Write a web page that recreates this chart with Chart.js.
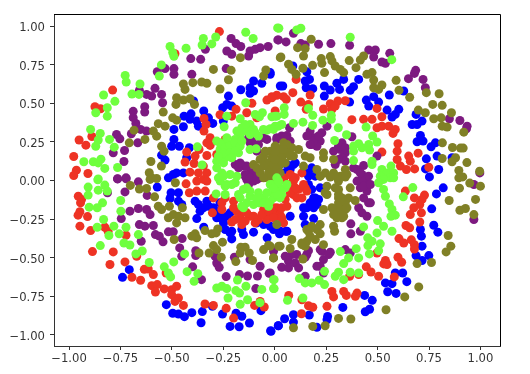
<!DOCTYPE html>
<html>
<head>
<meta charset="utf-8">
<script src="https://cdn.jsdelivr.net/npm/chart.js@4"></script>
<style>
html, body { margin: 0; padding: 0; background: #fff; }
canvas { display: block; }
</style>
</head>
<body>
<canvas id="chart1" width="530" height="374"></canvas>
<script>
// values, [x, y]
var bluePoints = [[-0.022,0.688],[-0.103,0.645],[-0.063,0.63],[-0.12,0.601],[-0.165,0.588],[-0.103,0.58],[-0.12,0.565],[0.027,0.612],[-0.225,0.547],[-0.233,0.493],[-0.253,0.471],[-0.209,0.482],[-0.395,0.515],[-0.345,0.45],[-0.441,0.417],[-0.407,0.432],[-0.412,0.396],[-0.379,0.385],[-0.371,0.352],[-0.301,0.37],[-0.322,0.406],[-0.49,0.331],[-0.444,0.348],[-0.49,0.266],[-0.501,0.222],[-0.464,0.222],[-0.55,0.164],[-0.533,0.132],[-0.415,0.212],[-0.428,0.147],[-0.493,0.039],[-0.517,0.017],[-0.444,0.049],[-0.477,0.049],[-0.25,0.385],
[0.088,0.742],[0.156,0.705],[0.169,0.655],[0.148,0.645],[0.153,0.601],[0.185,0.595],[0.039,0.612],[0.241,0.612],[0.27,0.586],[0.241,0.547],[0.302,0.63],[0.335,0.655],[0.315,0.59],[0.408,0.655],[0.383,0.608],[0.367,0.584],[0.364,0.508],[0.445,0.521],[0.481,0.543],[0.457,0.482],[0.505,0.508],[0.557,0.554],[0.627,0.58],[0.546,0.456],[0.603,0.461],[0.586,0.428],[0.57,0.411],[0.687,0.428],[0.716,0.385],[0.668,0.363],[0.692,0.363],[0.708,0.292],[0.692,0.251],[0.721,0.255],[0.76,0.218],[0.781,0.244],[0.789,0.158],[0.737,0.14],[0.862,0.147],[0.797,0.071],[0.733,0.075],[0.752,0.023],[0.091,0.103],[0.067,0.071],[0.043,0.049],[0.164,0.049],[0.18,0.082],[-0.022,0.699],
[-0.571,-0.043],[-0.504,-0.08],[-0.468,-0.08],[-0.509,-0.117],[-0.468,-0.134],[-0.452,-0.156],[-0.387,-0.134],[-0.347,-0.177],[-0.363,-0.199],[-0.379,-0.247],[-0.298,-0.177],[-0.266,-0.242],[-0.249,-0.275],[-0.217,-0.21],[-0.345,-0.303],[-0.241,-0.318],[-0.217,-0.34],[-0.209,-0.379],[-0.152,-0.351],[-0.103,-0.335],[-0.037,-0.372],[-0.707,-0.578],[-0.74,-0.628],[-0.527,-0.805],[-0.496,-0.861],[-0.468,-0.866],[-0.439,-0.883],[-0.403,-0.857],[-0.352,-0.85],[-0.358,-0.922],[-0.303,-0.816],[-0.254,-0.866],[-0.188,-0.861],[-0.16,-0.88],[-0.123,-0.924],[-0.217,-0.946],[-0.173,-0.948],[-0.067,-0.844],[-0.02,-0.974],[0.017,-0.942],[-0.054,-0.286],[0.027,-0.329],
[0.819,-0.048],[0.786,-0.087],[0.763,-0.184],[0.773,-0.29],[0.793,-0.335],[0.708,-0.318],[0.713,-0.361],[0.716,-0.426],[0.687,-0.487],[0.716,-0.519],[0.749,-0.487],[0.586,-0.6],[0.622,-0.6],[0.642,-0.656],[0.538,-0.664],[0.57,-0.669],[0.549,-0.721],[0.59,-0.732],[0.437,-0.745],[0.474,-0.777],[0.461,-0.835],[0.44,-0.851],[0.331,-0.823],[0.257,-0.881],[0.254,-0.903],[0.168,-0.872],[0.205,-0.952],[0.091,-0.87],[0.091,-0.918],[0.048,-0.896],[0.018,-0.941],[-0.018,-0.978],[0.075,-0.232],[0.14,-0.232],[0.189,-0.247],[0.148,-0.286],[0.054,-0.329],[0.023,-0.346],[0.164,-0.026],[0.189,-0.113],[0.205,-0.156],[0.156,-0.177],[0.197,0.028],
[0.14,-0.177],[0.189,-0.177],[0.197,-0.113],[0.172,-0.145],[0.18,-0.058],[0.221,-0.048],[0.213,-0.123],[0.164,0.028],[-0.006,-0.318],[0.059,-0.329],[-0.371,-0.156],[-0.322,-0.167],[-0.266,-0.199],[-0.233,-0.232],[-0.282,-0.242],[-0.087,-0.275],[-0.022,-0.297],[-0.16,-0.318],[-0.209,-0.329],[-0.266,-0.145],[-0.33,-0.134],[0.059,0.103],[0.1,0.114],[0.075,0.071]];

var redPoints = [[-0.269,0.965],[-0.788,0.586],[-0.874,0.478],[-0.847,0.465],[-0.485,0.822],[-0.889,0.285],[-0.951,0.262],[-0.918,0.229],[-0.977,0.155],[-0.964,0.067],[-0.977,0.032],[-0.908,0.045],[-0.344,0.402],[-0.334,0.363],[-0.344,0.32],[-0.314,0.277],[-0.33,0.244],[-0.314,0.227],[-0.368,0.201],[-0.387,0.158],[-0.33,0.162],[-0.428,0.184],[-0.436,0.119],[-0.392,0.11],[-0.347,0.093],[-0.412,0.054],[-0.371,0.049],[-0.33,0.049],[-0.282,0.168],[-0.266,0.426],[-0.188,0.461],[-0.209,0.417],[-0.136,0.439],[-0.111,0.5],[-0.038,0.521],[-0.014,0.543],[-0.087,0.406],[-0.241,0.266],
[0.104,0.655],[0.088,0.569],[0.043,0.543],[0.01,0.552],[0.056,0.526],[-0.014,0.536],[0.002,0.45],[0.172,0.554],[0.127,0.508],[0.164,0.493],[0.153,0.461],[0.237,0.463],[0.27,0.497],[0.307,0.515],[0.343,0.517],[0.278,0.461],[0.294,0.482],[0.375,0.394],[0.432,0.396],[0.473,0.396],[0.497,0.467],[0.521,0.413],[0.497,0.342],[0.521,0.352],[0.554,0.352],[0.586,0.331],[0.575,0.305],[0.599,0.238],[0.595,0.19],[0.521,0.184],[0.595,0.136],[0.651,0.158],[0.697,0.177],[0.611,0.093],[0.64,0.071],[0.68,0.075],[0.659,0.125],[0.749,0.086],[0.075,0.039],[0.043,0.017],[0.1,0.017],[0.132,0.049],
[-0.955,-0.102],[-0.939,-0.123],[-0.944,-0.145],[-0.947,-0.203],[-0.956,-0.225],[-0.91,-0.234],[-0.947,-0.296],[-0.895,-0.325],[-0.826,-0.303],[-0.81,-0.329],[-0.723,-0.355],[-0.886,-0.461],[-0.785,-0.463],[-0.801,-0.545],[-0.728,-0.528],[-0.671,-0.491],[-0.634,-0.576],[-0.615,-0.574],[-0.59,-0.61],[-0.694,-0.628],[-0.652,-0.647],[-0.598,-0.682],[-0.571,-0.675],[-0.58,-0.723],[-0.537,-0.703],[-0.501,-0.708],[-0.477,-0.686],[-0.501,-0.74],[-0.468,-0.762],[-0.485,-0.784],[-0.444,-0.81],[-0.528,-0.6],[-0.339,-0.801],[-0.298,-0.81],[-0.236,-0.829],[-0.2,-0.892],[-0.098,-0.81],[-0.071,-0.784],[-0.051,-0.82],[-0.431,-0.022],[-0.379,-0.004],[-0.347,0.007],[-0.33,-0.004],[-0.415,-0.08],[-0.379,-0.069],[-0.338,-0.069],[-0.298,-0.113],[-0.257,-0.145],[-0.257,-0.188],[-0.303,-0.21],[-0.2,-0.134],[-0.209,-0.27],[-0.168,-0.242],[-0.152,-0.199],[-0.12,-0.232],[-0.079,-0.253],[-0.054,-0.188],[-0.022,-0.221],[0.01,-0.177],[-0.16,-0.286],[-0.038,-0.253],[0.019,-0.232],
[0.635,-0.069],[0.679,-0.113],[0.728,-0.095],[0.716,-0.123],[0.705,-0.156],[0.676,-0.177],[0.659,-0.221],[0.713,-0.21],[0.705,-0.269],[0.638,-0.292],[0.656,-0.307],[0.604,-0.377],[0.627,-0.405],[0.664,-0.385],[0.679,-0.416],[0.679,-0.444],[0.599,-0.498],[0.617,-0.53],[0.538,-0.519],[0.53,-0.541],[0.546,-0.545],[0.445,-0.56],[0.468,-0.593],[0.505,-0.621],[0.581,-0.625],[0.497,-0.47],[0.364,-0.621],[0.408,-0.61],[0.278,-0.719],[0.286,-0.755],[0.335,-0.719],[0.348,-0.745],[0.4,-0.73],[0.392,-0.751],[0.068,-0.745],[0.132,-0.773],[0.164,-0.812],[0.185,-0.822],[0.254,-0.816],[0.13,-0.864],[0.043,0.007],[0.075,-0.026],[0.116,-0.058],[0.148,-0.048],[0.132,-0.113],[0.091,-0.091],[0.051,-0.123],[0.026,-0.221],[0.043,-0.275],[-0.006,-0.232],[0.083,0.028],
[-0.006,-0.177],[0.034,-0.177],[0.075,-0.08],[0.1,-0.048],[0.091,-0.004],[0.14,-0.026],[0.156,-0.069],[0.108,-0.113],[0.002,-0.232],[0.034,-0.242],[-0.014,-0.199],[0.059,-0.167],[-0.192,-0.253],[-0.136,-0.21],[-0.103,-0.232],[-0.063,-0.221],[-0.03,-0.199],[-0.006,-0.242],[-0.184,-0.199],[-0.144,-0.264],[-0.095,-0.275],[-0.2,-0.177],[-0.241,-0.113]];

var purplePoints = [[-0.212,0.92],[-0.188,0.887],[-0.165,0.868],[-0.233,0.839],[-0.209,0.818],[-0.12,0.839],[-0.127,0.807],[-0.095,0.85],[-0.071,0.861],[-0.032,0.868],[0.015,0.911],[-0.337,0.85],[-0.36,0.785],[-0.408,0.79],[-0.403,0.688],[-0.49,0.725],[-0.49,0.688],[-0.533,0.725],[-0.571,0.705],[-0.236,0.725],[-0.582,0.597],[-0.55,0.558],[-0.658,0.584],[-0.623,0.558],[-0.598,0.547],[-0.545,0.504],[-0.632,0.478],[-0.632,0.443],[-0.688,0.448],[-0.688,0.407],[-0.675,0.37],[-0.652,0.331],[-0.623,0.32],[-0.697,0.303],[-0.769,0.298],[-0.753,0.27],[-0.666,0.244],[-0.73,0.194],[-0.785,0.179],[-0.733,0.123],[-0.723,0.017],[-0.764,0.01],[-0.127,0.277],[-0.054,0.277],[-0.12,0.244],[0.01,0.277],[-0.192,0.103],[-0.152,0.093],[-0.12,0.05],[-0.087,0.028],[-0.136,0.006],
[0.091,0.954],[0.018,0.911],[0.055,0.898],[0.127,0.887],[0.148,0.878],[0.213,0.883],[0.273,0.887],[0.364,0.876],[0.457,0.846],[0.489,0.846],[0.481,0.8],[0.559,0.824],[0.521,0.768],[0.538,0.759],[0.685,0.714],[0.679,0.694],[0.65,0.66],[0.721,0.655],[0.732,0.601],[0.849,0.4],[0.9,0.389],[0.935,0.352],[0.932,0.335],[0.997,0.049],[0.072,0.342],[0.254,0.352],[0.172,0.32],[0.229,0.309],[0.189,0.277],[0.156,0.288],[0.221,0.255],[0.18,0.233],[0.205,0.222],[0.034,0.288],[0.059,0.292],[0.075,0.255],[0.327,0.244],[0.375,0.283],[0.286,0.19],[0.319,0.201],[0.343,0.179],[0.327,0.147],[0.294,0.103],[0.343,0.125],[0.497,0.158],[0.432,0.097],[0.4,0.071],[0.424,0.039],[0.456,0.028],
[-0.813,-0.08],[-0.764,0.011],[-0.722,0.011],[-0.663,-0.009],[-0.728,-0.074],[-0.62,-0.097],[-0.704,-0.199],[-0.663,-0.182],[-0.623,-0.188],[-0.606,-0.221],[-0.746,-0.247],[-0.658,-0.286],[-0.631,-0.296],[-0.59,-0.292],[-0.58,-0.351],[-0.561,-0.361],[-0.517,-0.333],[-0.493,-0.333],[-0.649,-0.394],[-0.543,-0.398],[-0.45,-0.377],[-0.462,-0.437],[-0.452,-0.491],[-0.384,-0.455],[-0.384,-0.487],[-0.399,-0.56],[-0.356,-0.643],[-0.282,-0.535],[-0.27,-0.563],[-0.29,-0.491],[-0.236,-0.623],[-0.171,-0.61],[-0.132,-0.619],[-0.084,-0.619],[-0.027,-0.602],[-0.071,-0.556],[-0.196,-0.498],[-0.12,-0.513],[-0.092,-0.701],[-0.127,-0.026],[-0.103,-0.004],[-0.071,0.017],[-0.144,0.028],
[0.968,-0.026],[0.968,-0.253],[0.37,-0.281],[0.37,-0.346],[0.416,-0.329],[0.456,-0.145],[0.408,-0.177],[0.448,-0.232],[0.4,-0.004],[0.44,0.017],[0.456,-0.026],[0.416,-0.048],[0.448,-0.069],[0.343,-0.448],[0.367,-0.47],[0.229,-0.459],[0.27,-0.465],[0.237,-0.513],[0.221,-0.556],[0.237,-0.6],[0.164,-0.455],[0.148,-0.498],[0.083,-0.48],[0.067,-0.524],[0.1,-0.535],[0.034,-0.563],[0.067,-0.567],[0.116,-0.567],[0.148,-0.621],[-0.006,-0.459],[-0.022,-0.6],
[0.432,-0.113],[0.424,-0.004],[0.465,-0.145],[0.424,-0.21],[0.432,-0.037],[0.465,-0.026],[0.051,-0.491],[0.107,-0.48],[0.156,-0.48],[0.205,-0.556],[0.221,-0.448],[0.262,-0.48],[0.189,0.255],[0.213,0.288],[0.172,0.233],[0.31,0.222],[0.343,0.212],[0.31,0.136],[0.416,0.049],[0.383,0.082],[0.01,0.266],[0.051,0.277],[-0.176,0.082],[-0.136,0.093],[-0.111,0.05],[-0.144,0.039],[-0.168,0.114],[-0.12,0.017],[-0.087,0.006],[-0.111,0.255],[-0.079,0.233],[-0.038,0.266],[-0.087,0.19]];

var olivePoints = [[-0.167,0.796],[0.027,0.796],[-0.298,0.72],[-0.212,0.714],[-0.043,0.716],[-0.054,0.677],[-0.225,0.653],[-0.444,0.625],[-0.398,0.634],[-0.355,0.638],[-0.33,0.63],[-0.436,0.59],[-0.266,0.593],[-0.477,0.536],[-0.48,0.493],[-0.444,0.521],[-0.412,0.53],[-0.39,0.493],[-0.542,0.443],[-0.496,0.406],[-0.477,0.391],[-0.566,0.368],[-0.533,0.352],[-0.59,0.32],[-0.574,0.287],[-0.631,0.266],[-0.684,0.326],[-0.707,0.244],[-0.55,0.222],[-0.538,0.19],[-0.602,0.123],[-0.551,0.093],[-0.61,0.05],[-0.598,0.017],[-0.054,0.158],[-0.022,0.19],[0.01,0.212],[-0.038,0.114],[0.002,0.147],[-0.103,0.103],[-0.071,0.05],[-0.022,0.071],[0.01,0.093],[-0.038,0.017],[0.01,0.028],
[0.177,0.915],[0.111,0.861],[0.148,0.855],[0.14,0.807],[0.03,0.8],[0.067,0.753],[0.083,0.72],[0.104,0.688],[0.137,0.727],[0.184,0.746],[0.226,0.79],[0.27,0.803],[0.229,0.759],[0.278,0.775],[0.294,0.742],[0.319,0.72],[0.335,0.699],[0.242,0.699],[0.362,0.777],[0.432,0.807],[0.416,0.781],[0.395,0.731],[0.448,0.688],[0.473,0.699],[0.481,0.651],[0.521,0.619],[0.481,0.601],[0.505,0.59],[0.59,0.649],[0.604,0.584],[0.656,0.539],[0.698,0.456],[0.732,0.439],[0.737,0.569],[0.799,0.562],[0.768,0.493],[0.814,0.487],[0.859,0.439],[0.773,0.4],[0.809,0.406],[0.814,0.352],[0.838,0.346],[0.919,0.313],[0.815,0.244],[0.864,0.214],[0.903,0.21],[0.916,0.21],[0.814,0.142],[0.879,0.147],[0.862,0.121],[0.934,0.116],[0.895,0.065],[0.914,0.023],[0.996,0.06],[0.043,0.244],[0.026,0.201],[0.083,0.212],[0.116,0.201],[0.059,0.179],[0.01,0.158],[0.091,0.158],[-0.006,0.114],[0.026,0.103],[-0.006,0.049],[0.148,0.158],[0.172,0.147],[0.14,0.093],[0.237,0.179],[0.237,0.147],[0.286,0.136],[0.205,0.071],[0.246,0.049],[0.286,0.049],[0.343,0.071],[0.351,0.039],[0.221,0.028],[0.319,0.028],
[-0.702,-0.032],[-0.658,-0.056],[-0.623,-0.052],[-0.606,0.007],[-0.574,0.013],[-0.584,-0.106],[-0.483,-0.015],[-0.566,-0.167],[-0.55,-0.188],[-0.512,-0.167],[-0.449,-0.177],[-0.517,-0.242],[-0.493,-0.221],[-0.468,-0.232],[-0.436,-0.242],[-0.477,-0.275],[-0.489,-0.383],[-0.403,-0.361],[-0.387,-0.346],[-0.379,-0.372],[-0.339,-0.325],[-0.306,-0.346],[-0.277,-0.314],[-0.285,-0.34],[-0.368,-0.47],[-0.319,-0.47],[-0.298,-0.422],[-0.254,-0.4],[-0.282,-0.448],[-0.26,-0.498],[-0.189,-0.526],[-0.165,-0.433],[-0.144,-0.433],[-0.168,-0.47],[-0.124,-0.47],[-0.108,-0.519],[-0.054,-0.448],[-0.03,-0.42],[-0.006,-0.502],[0.019,-0.426],[0.01,-0.286],
[0.895,0.017],[0.948,-0.017],[1.0,-0.037],[0.898,-0.05],[0.848,-0.13],[0.976,-0.123],[0.9,-0.193],[0.927,-0.182],[0.968,-0.221],[0.843,-0.357],[0.856,-0.426],[0.833,-0.463],[0.762,-0.532],[0.692,-0.539],[0.7,-0.69],[0.632,-0.755],[0.541,-0.838],[0.37,-0.898],[0.31,-0.894],[0.245,-0.942],[0.185,-0.946],[0.091,-0.955],[0.254,-0.037],[0.31,-0.004],[0.367,-0.048],[0.31,-0.058],[0.245,-0.08],[0.31,-0.113],[0.359,-0.113],[0.391,-0.13],[0.237,-0.188],[0.286,-0.188],[0.31,-0.167],[0.343,-0.188],[0.31,-0.21],[0.327,-0.242],[0.302,-0.242],[0.221,-0.286],[0.18,-0.297],[0.164,-0.329],[0.221,-0.346],[0.286,-0.297],[0.291,-0.329],[0.197,-0.383],[0.237,-0.416],[0.156,-0.394],[0.132,-0.405],[0.083,-0.383],[0.075,-0.441],[0.148,-0.426],[0.026,-0.426],[-0.022,-0.426],[-0.006,-0.502],[0.137,-0.509],
[-0.071,0.136],[-0.046,0.19],[-0.014,0.147],[0.019,0.168],[-0.087,0.082],[-0.054,0.093],[-0.006,0.103],[-0.03,0.049],[0.019,0.06],[-0.054,0.017],[-0.014,0.017],[0.002,0.223],[0.059,0.233],[0.002,0.179],[0.043,0.201],[0.075,0.158],[0.034,0.147],[0.002,0.136],[0.051,0.114],[0.01,0.071],[-0.014,0.028],[0.026,0.049],[0.31,-0.091],[0.31,-0.145],[0.278,-0.177],[0.343,-0.145],[0.335,-0.232],[0.286,-0.221],[0.351,-0.177],[0.327,-0.113],[0.294,-0.048],[0.254,-0.091],[0.221,0.028],[0.27,0.022],[0.343,0.022],[0.302,0.022],[0.156,-0.318],[0.205,-0.318],[0.172,-0.361],[0.132,-0.416]];

var greenPoints = [[0.014,0.989],[-0.141,0.961],[-0.105,0.92],[-0.287,0.93],[-0.347,0.92],[-0.353,0.878],[-0.306,0.885],[-0.431,0.857],[-0.509,0.868],[-0.496,0.829],[-0.49,0.805],[-0.551,0.749],[-0.561,0.677],[-0.727,0.681],[-0.722,0.638],[-0.655,0.625],[-0.694,0.56],[-0.66,0.558],[-0.832,0.554],[-0.777,0.513],[-0.814,0.471],[-0.87,0.439],[-0.814,0.417],[-0.895,0.331],[-0.848,0.305],[-0.858,0.262],[-0.87,0.222],[-0.803,0.266],[-0.78,0.216],[-0.845,0.138],[-0.882,0.121],[-0.858,0.114],[-0.928,0.121],[-0.826,0.078],[-0.764,0.084],[-0.858,0.01],[-0.141,0.504],[-0.233,0.417],[-0.246,0.348],[-0.168,0.4],[-0.095,0.428],[-0.06,0.439],[-0.074,0.413],[-0.014,0.413],[0.01,0.417],[-0.12,0.363],[-0.16,0.342],[-0.103,0.331],[-0.168,0.298],[-0.022,0.335],[0.002,0.352],[-0.038,0.326],[-0.079,0.288],[-0.282,0.255],[-0.233,0.244],[-0.193,0.266],[-0.209,0.212],[-0.266,0.201],[-0.176,0.179],[-0.233,0.168],[-0.282,0.125],[-0.282,0.082],[-0.241,0.147],[-0.257,0.049],[-0.217,0.039],[-0.184,0.028],[-0.376,0.218],[-0.353,0.101],[-0.12,0.201],[-0.09,0.205],
[0.02,0.987],[0.127,0.987],[0.107,0.976],[0.367,0.928],[0.569,0.783],[0.046,0.471],[0.046,0.428],[0.002,0.417],[0.034,0.363],[0.018,0.352],[-0.006,0.331],[0.091,0.37],[0.137,0.378],[0.164,0.467],[0.185,0.422],[0.184,0.357],[0.234,0.391],[0.275,0.422],[0.275,0.396],[0.309,0.342],[0.349,0.296],[0.291,0.259],[0.444,0.346],[0.476,0.288],[0.497,0.249],[0.408,0.238],[0.383,0.223],[0.424,0.212],[0.457,0.233],[0.383,0.19],[0.461,0.197],[0.383,0.129],[0.473,0.125],[0.473,0.103],[0.521,0.071],[0.565,0.093],[0.546,0.049],[0.578,0.049],[0.513,0.028],[0.562,0.017],
[-0.86,0.004],[-0.907,-0.043],[-0.858,-0.063],[-0.826,-0.03],[-0.814,-0.069],[-0.907,-0.095],[-0.837,-0.145],[-0.863,-0.177],[-0.902,-0.173],[-0.749,-0.13],[-0.748,-0.199],[-0.832,-0.253],[-0.863,-0.303],[-0.782,-0.296],[-0.723,-0.303],[-0.806,-0.357],[-0.756,-0.346],[-0.663,-0.351],[-0.733,-0.405],[-0.704,-0.418],[-0.848,-0.422],[-0.644,-0.457],[-0.675,-0.476],[-0.438,-0.476],[-0.491,-0.528],[-0.61,-0.532],[-0.537,-0.56],[-0.517,-0.6],[-0.506,-0.625],[-0.426,-0.591],[-0.374,-0.604],[-0.392,-0.654],[-0.181,-0.645],[-0.282,-0.697],[-0.257,-0.686],[-0.233,-0.701],[-0.189,-0.714],[-0.171,-0.73],[-0.14,-0.686],[-0.063,-0.706],[-0.003,-0.643],[-0.003,-0.701],[-0.227,-0.762],[-0.168,-0.803],[-0.132,-0.773],[-0.072,-0.792],[-0.285,-0.087],[-0.265,-0.004],[-0.233,-0.026],[-0.241,-0.091],[-0.136,-0.048],[-0.168,-0.113],[-0.12,-0.102],[-0.079,-0.08],[-0.054,-0.113],[-0.152,-0.177],[-0.103,-0.156],[-0.03,-0.167],[-0.006,-0.091],[0.019,-0.048],[-0.022,-0.026],[-0.192,-0.015],
[0.671,-0.046],[0.625,-0.106],[0.529,-0.058],[0.538,-0.102],[0.557,-0.152],[0.57,-0.188],[0.586,-0.225],[0.565,-0.232],[0.5,-0.26],[0.529,-0.297],[0.497,-0.34],[0.57,-0.329],[0.432,-0.301],[0.452,-0.372],[0.473,-0.394],[0.453,-0.422],[0.513,-0.411],[0.505,-0.455],[0.46,-0.476],[0.396,-0.442],[0.319,-0.461],[0.359,-0.502],[0.408,-0.502],[0.335,-0.539],[0.367,-0.595],[0.408,-0.6],[0.31,-0.595],[0.294,-0.621],[0.335,-0.643],[0.242,-0.589],[0.12,-0.636],[0.148,-0.664],[0.18,-0.664],[0.216,-0.647],[0.242,-0.675],[-0.006,-0.643],[-0.006,-0.701],[0.062,-0.777],[0.137,-0.762],[0.529,0.007],[0.578,0.017],[0.505,-0.015],
[-0.266,0.244],[-0.241,0.212],[-0.217,0.233],[-0.193,0.244],[-0.168,0.223],[-0.249,0.179],[-0.217,0.179],[-0.192,0.19],[-0.16,0.255],[-0.136,0.32],[-0.12,0.298],[-0.095,0.309],[-0.144,0.363],[-0.184,0.32],[-0.055,0.331],[-0.233,0.277],[-0.274,0.158],[-0.209,0.147],[-0.249,0.114],[-0.014,-0.026],[0.018,-0.015],[0.051,-0.048],[0.002,-0.069],[0.034,-0.091],[-0.006,-0.113],[0.026,-0.113],[0.059,-0.026],[0.01,0.017],[-0.274,0.017],[-0.249,0.028],[-0.241,-0.037],[-0.209,-0.026],[-0.176,-0.091],[-0.152,-0.058],[-0.136,-0.145],[-0.16,-0.167],[-0.079,-0.145],[-0.054,-0.145],[-0.022,-0.134],[0.01,-0.091],[-0.12,-0.069],[-0.087,-0.113],[-0.038,-0.08],[-0.006,-0.048],[0.019,-0.004]];

var tickValues = [-1, -0.75, -0.5, -0.25, 0, 0.25, 0.5, 0.75, 1];

function makeSet(points, color) {
    return {
        data: points.map(function(p) { return {x: p[0], y: p[1]}; }),
        backgroundColor: color,
        borderWidth: 0,
        pointRadius: 4.5,
        pointHoverRadius: 4.5
    };
}

function tickText(v) {
    return (v < 0 ? '\u2212' : '') + Math.abs(v).toFixed(2);
}

var tickFont = {family: 'DejaVu Sans', size: 11.6};

// top and right edges of the box, left and bottom come from the axes
var frame = {
    id: 'frame',
    afterDraw: function(chart) {
        var a = chart.chartArea, ctx = chart.ctx;
        ctx.save();
        ctx.strokeStyle = '#000';
        ctx.lineWidth = 1;
        ctx.beginPath();
        ctx.moveTo(a.left, a.top + 0.5);
        ctx.lineTo(a.right + 0.5, a.top + 0.5);
        ctx.lineTo(a.right + 0.5, a.bottom);
        ctx.stroke();
        ctx.restore();
    }
};

function axis(min, max, size, isX) {
    return {
        type: 'linear',
        min: min,
        max: max,
        afterFit: function(s) { if (isX) s.height = size; else s.width = size; },
        afterBuildTicks: function(s) { s.ticks = tickValues.map(function(v) { return {value: v}; }); },
        grid: {drawOnChartArea: false, color: '#333', tickLength: 4, tickWidth: 1},
        border: {color: '#333'},
        ticks: {
            color: '#333',
            font: tickFont,
            padding: isX ? 2 : 5,
            labelOffset: isX ? 0 : 2,
            maxRotation: 0,
            autoSkip: false,
            callback: tickText
        }
    };
}

new Chart(document.getElementById('chart1').getContext('2d'), {
    type: 'scatter',
    data: {
        datasets: [
            makeSet(greenPoints, '#6fff3e'),
            makeSet(olivePoints, '#808026'),
            makeSet(purplePoints, '#7d1a80'),
            makeSet(redPoints, '#ee3324'),
            makeSet(bluePoints, '#0000ff')
        ]
    },
    plugins: [frame],
    options: {
        responsive: false,
        animation: false,
        layout: {padding: {top: 14, right: 30, left: 0, bottom: 0}},
        plugins: {legend: {display: false}, tooltip: {enabled: false}},
        scales: {
            x: axis(-1.073, 1.095, 28, true),
            y: axis(-1.073, 1.079, 54, false)
        }
    }
});
</script>
</body>
</html>
